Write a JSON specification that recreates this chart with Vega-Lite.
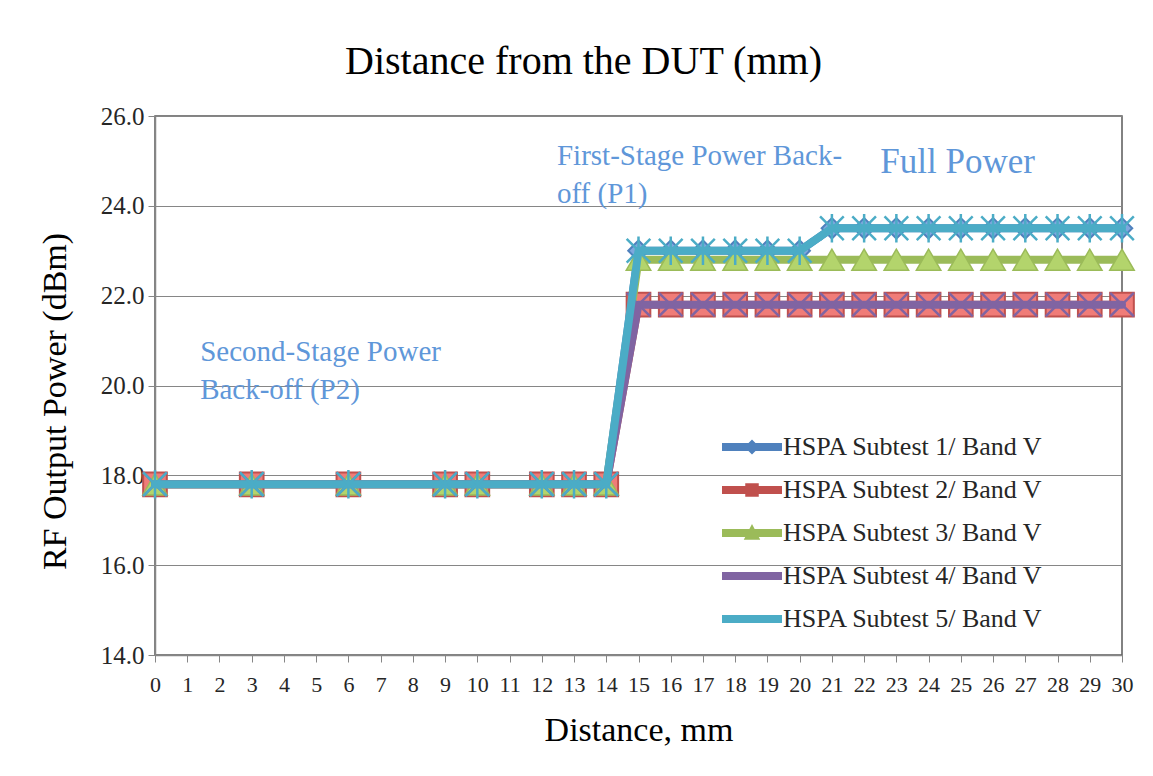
{
  "$schema": "https://vega.github.io/schema/vega-lite/v6.json",
  "width": 967,
  "height": 539,
  "autosize": "none",
  "padding": {"left": 155, "top": 116, "right": 31, "bottom": 121},
  "background": "white",
  "config": {
    "font": "Liberation Serif",
    "view": {"stroke": "#595959", "strokeWidth": 1.5}
  },
  "title": {
    "text": "Distance from the DUT (mm)",
    "font": "Liberation Serif",
    "fontSize": 40,
    "fontWeight": "normal",
    "color": "#000000",
    "anchor": "middle",
    "dx": -55,
    "offset": 22
  },
  "datasets": {
    "power": [
      {"series": "HSPA Subtest 1/ Band V", "distance": 0, "power": 17.8},
      {"series": "HSPA Subtest 1/ Band V", "distance": 3, "power": 17.8},
      {"series": "HSPA Subtest 1/ Band V", "distance": 6, "power": 17.8},
      {"series": "HSPA Subtest 1/ Band V", "distance": 9, "power": 17.8},
      {"series": "HSPA Subtest 1/ Band V", "distance": 10, "power": 17.8},
      {"series": "HSPA Subtest 1/ Band V", "distance": 12, "power": 17.8},
      {"series": "HSPA Subtest 1/ Band V", "distance": 13, "power": 17.8},
      {"series": "HSPA Subtest 1/ Band V", "distance": 14, "power": 17.8},
      {"series": "HSPA Subtest 1/ Band V", "distance": 15, "power": 23.0},
      {"series": "HSPA Subtest 1/ Band V", "distance": 16, "power": 23.0},
      {"series": "HSPA Subtest 1/ Band V", "distance": 17, "power": 23.0},
      {"series": "HSPA Subtest 1/ Band V", "distance": 18, "power": 23.0},
      {"series": "HSPA Subtest 1/ Band V", "distance": 19, "power": 23.0},
      {"series": "HSPA Subtest 1/ Band V", "distance": 20, "power": 23.0},
      {"series": "HSPA Subtest 1/ Band V", "distance": 21, "power": 23.5},
      {"series": "HSPA Subtest 1/ Band V", "distance": 22, "power": 23.5},
      {"series": "HSPA Subtest 1/ Band V", "distance": 23, "power": 23.5},
      {"series": "HSPA Subtest 1/ Band V", "distance": 24, "power": 23.5},
      {"series": "HSPA Subtest 1/ Band V", "distance": 25, "power": 23.5},
      {"series": "HSPA Subtest 1/ Band V", "distance": 26, "power": 23.5},
      {"series": "HSPA Subtest 1/ Band V", "distance": 27, "power": 23.5},
      {"series": "HSPA Subtest 1/ Band V", "distance": 28, "power": 23.5},
      {"series": "HSPA Subtest 1/ Band V", "distance": 29, "power": 23.5},
      {"series": "HSPA Subtest 1/ Band V", "distance": 30, "power": 23.5},

      {"series": "HSPA Subtest 2/ Band V", "distance": 0, "power": 17.8},
      {"series": "HSPA Subtest 2/ Band V", "distance": 3, "power": 17.8},
      {"series": "HSPA Subtest 2/ Band V", "distance": 6, "power": 17.8},
      {"series": "HSPA Subtest 2/ Band V", "distance": 9, "power": 17.8},
      {"series": "HSPA Subtest 2/ Band V", "distance": 10, "power": 17.8},
      {"series": "HSPA Subtest 2/ Band V", "distance": 12, "power": 17.8},
      {"series": "HSPA Subtest 2/ Band V", "distance": 13, "power": 17.8},
      {"series": "HSPA Subtest 2/ Band V", "distance": 14, "power": 17.8},
      {"series": "HSPA Subtest 2/ Band V", "distance": 15, "power": 21.8},
      {"series": "HSPA Subtest 2/ Band V", "distance": 16, "power": 21.8},
      {"series": "HSPA Subtest 2/ Band V", "distance": 17, "power": 21.8},
      {"series": "HSPA Subtest 2/ Band V", "distance": 18, "power": 21.8},
      {"series": "HSPA Subtest 2/ Band V", "distance": 19, "power": 21.8},
      {"series": "HSPA Subtest 2/ Band V", "distance": 20, "power": 21.8},
      {"series": "HSPA Subtest 2/ Band V", "distance": 21, "power": 21.8},
      {"series": "HSPA Subtest 2/ Band V", "distance": 22, "power": 21.8},
      {"series": "HSPA Subtest 2/ Band V", "distance": 23, "power": 21.8},
      {"series": "HSPA Subtest 2/ Band V", "distance": 24, "power": 21.8},
      {"series": "HSPA Subtest 2/ Band V", "distance": 25, "power": 21.8},
      {"series": "HSPA Subtest 2/ Band V", "distance": 26, "power": 21.8},
      {"series": "HSPA Subtest 2/ Band V", "distance": 27, "power": 21.8},
      {"series": "HSPA Subtest 2/ Band V", "distance": 28, "power": 21.8},
      {"series": "HSPA Subtest 2/ Band V", "distance": 29, "power": 21.8},
      {"series": "HSPA Subtest 2/ Band V", "distance": 30, "power": 21.8},

      {"series": "HSPA Subtest 3/ Band V", "distance": 0, "power": 17.8},
      {"series": "HSPA Subtest 3/ Band V", "distance": 3, "power": 17.8},
      {"series": "HSPA Subtest 3/ Band V", "distance": 6, "power": 17.8},
      {"series": "HSPA Subtest 3/ Band V", "distance": 9, "power": 17.8},
      {"series": "HSPA Subtest 3/ Band V", "distance": 10, "power": 17.8},
      {"series": "HSPA Subtest 3/ Band V", "distance": 12, "power": 17.8},
      {"series": "HSPA Subtest 3/ Band V", "distance": 13, "power": 17.8},
      {"series": "HSPA Subtest 3/ Band V", "distance": 14, "power": 17.8},
      {"series": "HSPA Subtest 3/ Band V", "distance": 15, "power": 22.8},
      {"series": "HSPA Subtest 3/ Band V", "distance": 16, "power": 22.8},
      {"series": "HSPA Subtest 3/ Band V", "distance": 17, "power": 22.8},
      {"series": "HSPA Subtest 3/ Band V", "distance": 18, "power": 22.8},
      {"series": "HSPA Subtest 3/ Band V", "distance": 19, "power": 22.8},
      {"series": "HSPA Subtest 3/ Band V", "distance": 20, "power": 22.8},
      {"series": "HSPA Subtest 3/ Band V", "distance": 21, "power": 22.8},
      {"series": "HSPA Subtest 3/ Band V", "distance": 22, "power": 22.8},
      {"series": "HSPA Subtest 3/ Band V", "distance": 23, "power": 22.8},
      {"series": "HSPA Subtest 3/ Band V", "distance": 24, "power": 22.8},
      {"series": "HSPA Subtest 3/ Band V", "distance": 25, "power": 22.8},
      {"series": "HSPA Subtest 3/ Band V", "distance": 26, "power": 22.8},
      {"series": "HSPA Subtest 3/ Band V", "distance": 27, "power": 22.8},
      {"series": "HSPA Subtest 3/ Band V", "distance": 28, "power": 22.8},
      {"series": "HSPA Subtest 3/ Band V", "distance": 29, "power": 22.8},
      {"series": "HSPA Subtest 3/ Band V", "distance": 30, "power": 22.8},

      {"series": "HSPA Subtest 4/ Band V", "distance": 0, "power": 17.8},
      {"series": "HSPA Subtest 4/ Band V", "distance": 3, "power": 17.8},
      {"series": "HSPA Subtest 4/ Band V", "distance": 6, "power": 17.8},
      {"series": "HSPA Subtest 4/ Band V", "distance": 9, "power": 17.8},
      {"series": "HSPA Subtest 4/ Band V", "distance": 10, "power": 17.8},
      {"series": "HSPA Subtest 4/ Band V", "distance": 12, "power": 17.8},
      {"series": "HSPA Subtest 4/ Band V", "distance": 13, "power": 17.8},
      {"series": "HSPA Subtest 4/ Band V", "distance": 14, "power": 17.8},
      {"series": "HSPA Subtest 4/ Band V", "distance": 15, "power": 21.8},
      {"series": "HSPA Subtest 4/ Band V", "distance": 16, "power": 21.8},
      {"series": "HSPA Subtest 4/ Band V", "distance": 17, "power": 21.8},
      {"series": "HSPA Subtest 4/ Band V", "distance": 18, "power": 21.8},
      {"series": "HSPA Subtest 4/ Band V", "distance": 19, "power": 21.8},
      {"series": "HSPA Subtest 4/ Band V", "distance": 20, "power": 21.8},
      {"series": "HSPA Subtest 4/ Band V", "distance": 21, "power": 21.8},
      {"series": "HSPA Subtest 4/ Band V", "distance": 22, "power": 21.8},
      {"series": "HSPA Subtest 4/ Band V", "distance": 23, "power": 21.8},
      {"series": "HSPA Subtest 4/ Band V", "distance": 24, "power": 21.8},
      {"series": "HSPA Subtest 4/ Band V", "distance": 25, "power": 21.8},
      {"series": "HSPA Subtest 4/ Band V", "distance": 26, "power": 21.8},
      {"series": "HSPA Subtest 4/ Band V", "distance": 27, "power": 21.8},
      {"series": "HSPA Subtest 4/ Band V", "distance": 28, "power": 21.8},
      {"series": "HSPA Subtest 4/ Band V", "distance": 29, "power": 21.8},
      {"series": "HSPA Subtest 4/ Band V", "distance": 30, "power": 21.8},

      {"series": "HSPA Subtest 5/ Band V", "distance": 0, "power": 17.8},
      {"series": "HSPA Subtest 5/ Band V", "distance": 3, "power": 17.8},
      {"series": "HSPA Subtest 5/ Band V", "distance": 6, "power": 17.8},
      {"series": "HSPA Subtest 5/ Band V", "distance": 9, "power": 17.8},
      {"series": "HSPA Subtest 5/ Band V", "distance": 10, "power": 17.8},
      {"series": "HSPA Subtest 5/ Band V", "distance": 12, "power": 17.8},
      {"series": "HSPA Subtest 5/ Band V", "distance": 13, "power": 17.8},
      {"series": "HSPA Subtest 5/ Band V", "distance": 14, "power": 17.8},
      {"series": "HSPA Subtest 5/ Band V", "distance": 15, "power": 23.0},
      {"series": "HSPA Subtest 5/ Band V", "distance": 16, "power": 23.0},
      {"series": "HSPA Subtest 5/ Band V", "distance": 17, "power": 23.0},
      {"series": "HSPA Subtest 5/ Band V", "distance": 18, "power": 23.0},
      {"series": "HSPA Subtest 5/ Band V", "distance": 19, "power": 23.0},
      {"series": "HSPA Subtest 5/ Band V", "distance": 20, "power": 23.0},
      {"series": "HSPA Subtest 5/ Band V", "distance": 21, "power": 23.5},
      {"series": "HSPA Subtest 5/ Band V", "distance": 22, "power": 23.5},
      {"series": "HSPA Subtest 5/ Band V", "distance": 23, "power": 23.5},
      {"series": "HSPA Subtest 5/ Band V", "distance": 24, "power": 23.5},
      {"series": "HSPA Subtest 5/ Band V", "distance": 25, "power": 23.5},
      {"series": "HSPA Subtest 5/ Band V", "distance": 26, "power": 23.5},
      {"series": "HSPA Subtest 5/ Band V", "distance": 27, "power": 23.5},
      {"series": "HSPA Subtest 5/ Band V", "distance": 28, "power": 23.5},
      {"series": "HSPA Subtest 5/ Band V", "distance": 29, "power": 23.5},
      {"series": "HSPA Subtest 5/ Band V", "distance": 30, "power": 23.5}
    ],
    "notes": [
      {"label": "Second-Stage Power\nBack-off (P2)", "distance": 1.4, "power": 21.05, "size": 29},
      {"label": "First-Stage Power Back-\noff (P1)", "distance": 12.47, "power": 25.42, "size": 29},
      {"label": "Full Power", "distance": 22.5, "power": 25.36, "size": 35}
    ]
  },
  "encoding": {
    "x": {
      "field": "distance",
      "type": "quantitative",
      "scale": {"domain": [0, 30], "nice": false, "zero": false},
      "axis": {
        "values": [0,1,2,3,4,5,6,7,8,9,10,11,12,13,14,15,16,17,18,19,20,21,22,23,24,25,26,27,28,29,30],
        "format": "d",
        "grid": false,
        "domainColor": "#868686",
        "domainWidth": 1.5,
        "tickColor": "#868686",
        "tickSize": 7,
        "labelFont": "Liberation Serif",
        "labelFontSize": 22,
        "labelColor": "#262626",
        "labelPadding": 12,
        "labelFlush": false,
        "labelOverlap": false,
        "title": "Distance, mm",
        "titleFont": "Liberation Serif",
        "titleFontSize": 34,
        "titleFontWeight": "normal",
        "titleColor": "#000000",
        "titleY": 75,
        "titleBaseline": "middle"
      }
    },
    "y": {
      "field": "power",
      "type": "quantitative",
      "scale": {"domain": [14, 26], "nice": false, "zero": false},
      "axis": {
        "values": [14, 16, 18, 20, 22, 24, 26],
        "format": ".1f",
        "grid": true,
        "gridColor": "#868686",
        "gridWidth": 1.2,
        "domainColor": "#868686",
        "domainWidth": 1.5,
        "tickColor": "#868686",
        "tickSize": 7,
        "labelFont": "Liberation Serif",
        "labelFontSize": 25,
        "labelColor": "#262626",
        "labelPadding": 4,
        "title": "RF Output Power (dBm)",
        "titleFont": "Liberation Serif",
        "titleFontSize": 34,
        "titleFontWeight": "normal",
        "titleColor": "#000000",
        "titleX": -100,
        "titleY": 285,
        "titleAngle": -90,
        "titleBaseline": "middle",
        "titleAlign": "center"
      }
    }
  },
  "layer": [
    {
      "transform": [{"filter": "datum.series === 'HSPA Subtest 1/ Band V'"}],
      "data": {"name": "power"},
      "layer": [
        {"mark": {"type": "line", "strokeWidth": 8, "strokeCap": "round", "strokeJoin": "round"},
         "encoding": {"stroke": {"field": "series", "type": "nominal", "scale": {"domain": ["HSPA Subtest 1/ Band V","HSPA Subtest 2/ Band V","HSPA Subtest 3/ Band V","HSPA Subtest 4/ Band V","HSPA Subtest 5/ Band V"], "range": ["#4F81BD","#C0504D","#9BBB59","#8064A2","#4BACC6"]},
           "legend": {"orient": "none", "legendX": 582, "legendY": 316, "title": null, "symbolSize": 900, "symbolStrokeWidth": 0, "symbolOpacity": 1,
             "labelFont": "Liberation Serif", "labelFontSize": 26, "labelColor": "#262626", "labelOffset": 16, "labelLimit": 400, "rowPadding": 15,
             "encode": {"symbols": {"update": {
               "shape": {"signal": "indexof(datum.label, '1/') >= 0 ? 'M-2,-0.27L2,-0.27L2,0.27L-2,0.27Z M0,-0.5L0.5,0L0,0.5L-0.5,0Z' : indexof(datum.label, '2/') >= 0 ? 'M-2,-0.27L2,-0.27L2,0.27L-2,0.27Z M-0.45,-0.45L0.45,-0.45L0.45,0.45L-0.45,0.45Z' : indexof(datum.label, '3/') >= 0 ? 'M-2,-0.27L2,-0.27L2,0.27L-2,0.27Z M0,-0.6L0.55,0.45L-0.55,0.45Z' : 'M-2,-0.27L2,-0.27L2,0.27L-2,0.27Z'"},
               "fill": {"signal": "scale('stroke', datum.value)"}
             }}}}}}},
        {"mark": {"type": "point", "shape": "diamond", "size": 420, "strokeWidth": 2, "opacity": 1, "fill": "#7FA8DE", "stroke": "#4F81BD", "filled": true}}
      ]
    },
    {
      "transform": [{"filter": "datum.series === 'HSPA Subtest 2/ Band V'"}],
      "data": {"name": "power"},
      "layer": [
        {"mark": {"type": "line", "strokeWidth": 8, "strokeCap": "round", "strokeJoin": "round"},
         "encoding": {"stroke": {"field": "series", "type": "nominal"}}},
        {"mark": {"type": "point", "shape": "square", "size": 560, "strokeWidth": 2, "opacity": 1, "fill": "#F07C78", "stroke": "#C0504D", "filled": true}}
      ]
    },
    {
      "transform": [{"filter": "datum.series === 'HSPA Subtest 3/ Band V'"}],
      "data": {"name": "power"},
      "layer": [
        {"mark": {"type": "line", "strokeWidth": 8, "strokeCap": "round", "strokeJoin": "round"},
         "encoding": {"stroke": {"field": "series", "type": "nominal"}}},
        {"mark": {"type": "point", "shape": "triangle-up", "size": 600, "strokeWidth": 1.5, "opacity": 1, "fill": "#B3D46C", "stroke": "#9BBB59", "filled": true}}
      ]
    },
    {
      "transform": [{"filter": "datum.series === 'HSPA Subtest 4/ Band V'"}],
      "data": {"name": "power"},
      "layer": [
        {"mark": {"type": "line", "strokeWidth": 8, "strokeCap": "round", "strokeJoin": "round"},
         "encoding": {"stroke": {"field": "series", "type": "nominal"}}},
        {"mark": {"type": "point", "shape": "M-1,-1L1,1M-1,1L1,-1", "size": 560, "strokeWidth": 2.5, "opacity": 1, "fill": "#8064A2", "stroke": "#8064A2", "filled": false}}
      ]
    },
    {
      "transform": [{"filter": "datum.series === 'HSPA Subtest 5/ Band V'"}],
      "data": {"name": "power"},
      "layer": [
        {"mark": {"type": "line", "strokeWidth": 8, "strokeCap": "round", "strokeJoin": "round"},
         "encoding": {"stroke": {"field": "series", "type": "nominal"}}},
        {"mark": {"type": "point", "shape": "M-1,-1L1,1M-1,1L1,-1M0,-1.2L0,1.2", "size": 560, "strokeWidth": 2.5, "opacity": 1, "fill": "#4BACC6", "stroke": "#4BACC6", "filled": false}}
      ]
    },
    {
      "data": {"name": "notes"},
      "mark": {"type": "text", "align": "left", "baseline": "top", "font": "Liberation Serif", "color": "#5F97D9", "lineBreak": "\n", "lineHeight": 38},
      "encoding": {
        "text": {"field": "label"},
        "size": {"field": "size", "type": "quantitative", "scale": null}
      }
    }
  ]
}
